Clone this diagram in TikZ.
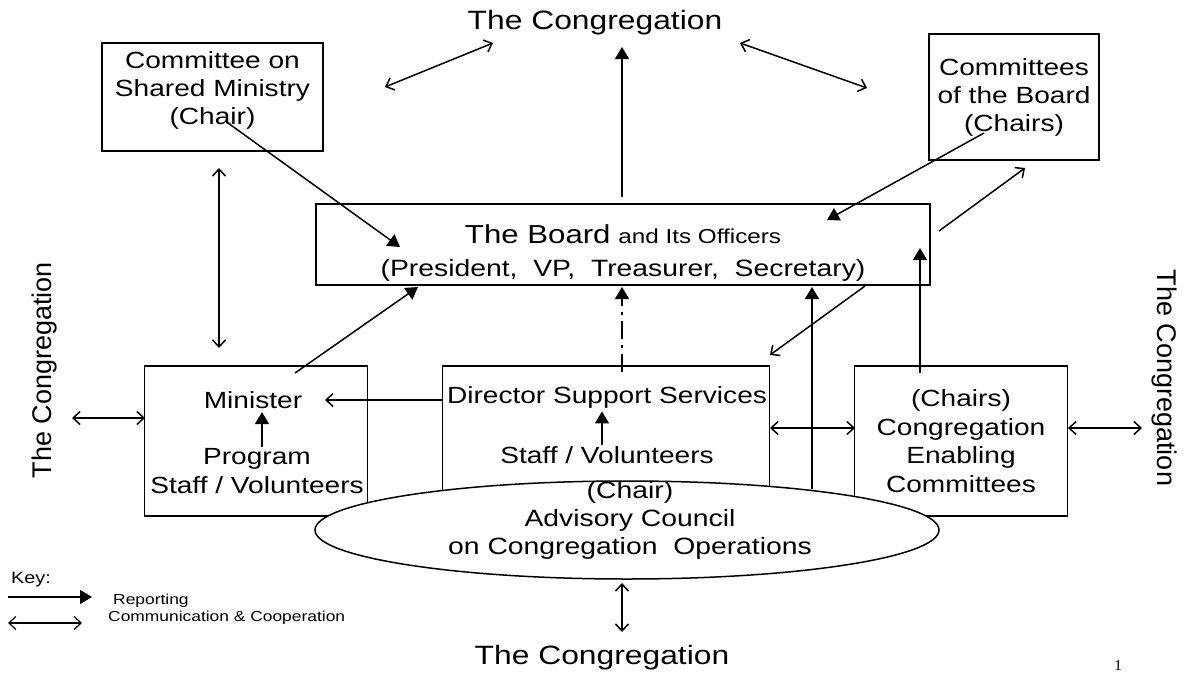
\documentclass[tikz,border=0pt]{standalone}
\usepackage{fontspec}
\setmainfont[FakeStretch=1.2]{Liberation Sans}
\newfontfamily\uprightfont{Liberation Sans}
\newfontfamily\pagenofont{Liberation Serif}
\usepackage{tikz}
\usetikzlibrary{arrows.meta, positioning, shapes.geometric}

\newcommand{\boxfont}{\fontsize{23.4}{28.5}\selectfont}
\newcommand{\titlefont}{\fontsize{26.5}{32}\selectfont}
\newcommand{\sidefont}{\uprightfont\fontsize{27}{32}\selectfont}
\newcommand{\keyfont}{\fontsize{14.5}{17}\selectfont}

\tikzstyle{unit} = [draw, rectangle, line width=1.6pt, align=center, inner sep=0pt]
\tikzstyle{report} = [line width=1.5pt, -{Triangle[length=12pt,width=14pt]}]
\tikzstyle{commone} = [line width=1.5pt, -{Straight Barb[length=7pt,width=13pt]}]
\tikzstyle{commboth} = [line width=1.5pt,
   {Straight Barb[length=7pt,width=13pt]}-{Straight Barb[length=7pt,width=13pt]}]
\tikzstyle{dashdot} = [dash pattern=on 18pt off 6pt on 3pt off 6pt]

\begin{document}
\begin{tikzpicture}[x=1pt,y=-1pt,font=\boxfont]
  \useasboundingbox (0,0) rectangle (1184,675);

  % the congregation, all four sides
  \node (congtop) at (595,23) {\titlefont The Congregation};
  \node (congbot) at (602,658) {\titlefont The Congregation};
  \node[rotate=90] (congleft) at (45,370) {\sidefont The Congregation};
  \node[rotate=-90] (congright) at (1164,378) {\sidefont The Congregation};

  % upper row
  \node[unit, minimum width=221pt, minimum height=108pt] (csm) at (212.5,97) {};
  \node[align=center, font=\fontsize{23.4}{28}\selectfont] (csmtext) at (212.5,90)
     {Committee on\\Shared Ministry\\(Chair)};
  \node[unit, minimum width=170pt, minimum height=126pt,
     font=\fontsize{23.4}{28}\selectfont] (cob) at (1014,97)
     {Committees\\of the Board\\(Chairs)};
  \node[unit, minimum width=614pt, minimum height=81pt] (board) at (623,244.5) {};
  \node[align=center, font=\fontsize{23.6}{33}\selectfont] (boardtext) at (623,253)
     {{\fontsize{26}{33}\selectfont The Board}
      {\fontsize{20.2}{33}\selectfont and Its Officers}\\(President,~ VP,~ Treasurer,~ Secretary)};

  % lower row
  \node[unit, minimum width=223pt, minimum height=150pt] (minbox) at (256,441) {};
  \node (minister) at (253,400) {Minister};
  \node[align=center, inner sep=1pt] (program) at (257,471) {Program\\Staff / Volunteers};
  \node[unit, minimum width=327pt, minimum height=160pt] (dss) at (606,446) {};
  \node (director) at (607,397) {Director Support Services};
  \node[inner sep=1pt] (dssstaff) at (607,455) {Staff / Volunteers};
  \node[unit, minimum width=213pt, minimum height=150pt] (cec) at (961,441)
     {(Chairs)\\Congregation\\Enabling\\Committees};

  % advisory council sits over the boxes
  \node[draw, ellipse, fill=white, line width=1.5pt, minimum width=624pt,
     minimum height=98pt] (acco) at (627,530) {};
  \node[align=center, font=\fontsize{23.6}{28}\selectfont] (accotext) at (630,520)
     {(Chair)\\Advisory Council\\on Congregation~ Operations};

  % free ends of the connectors
  \coordinate (tl1) at (385,87);   \coordinate (tl2) at (493,43);
  \coordinate (tr1) at (740,43);   \coordinate (tr2) at (867,88);
  \coordinate (bt) at (622,197);   \coordinate (ct) at (622,47);
  \coordinate (csmin) at (228,123); \coordinate (bin1) at (400,247);
  \coordinate (cobin) at (984,133); \coordinate (bin2) at (827,220);
  \coordinate (bout) at (939,231); \coordinate (cobbelow) at (1025,168);
  \coordinate (csmbelow) at (219,168); \coordinate (minabove) at (219,348);
  \coordinate (minin) at (295,373); \coordinate (bbot1) at (418,287);
  \coordinate (dssin) at (622,372); \coordinate (bbot2) at (622,287);
  \coordinate (bbot3) at (865,286); \coordinate (dsscorner) at (770,355);
  \coordinate (accotop) at (812,489); \coordinate (bbot4) at (812,287);
  \coordinate (cecin) at (920,373); \coordinate (bin3) at (920,248);
  \coordinate (dssleft) at (443,400); \coordinate (minright) at (325,400);
  \coordinate (dssright) at (770,428); \coordinate (cecleft) at (855,428);
  \coordinate (cecright) at (1068,428); \coordinate (congr) at (1142,428);
  \coordinate (congl) at (72,418); \coordinate (minleft) at (145,418);
  \coordinate (accobot) at (622,583); \coordinate (congb) at (622,632);
  \coordinate (minarrow) at (262,0); \coordinate (dssarrow) at (602,0);

  % communication & cooperation
  \draw[commboth] (tl1) -- (tl2);
  \draw[commboth] (tr1) -- (tr2);
  \draw[commboth] (csmbelow) -- (minabove);
  \draw[commboth] (congl) -- (minleft);
  \draw[commboth] (dssright) -- (cecleft);
  \draw[commboth] (cecright) -- (congr);
  \draw[commboth] (accobot) -- (congb);
  \draw[commone] (bout) -- (cobbelow);
  \draw[commone] (bbot3) -- (dsscorner);
  \draw[commone] (dssleft) -- (minright);

  % reporting
  \draw[report] (bt) -- (ct);
  \draw[report] (csmin) -- (bin1);
  \draw[report] (cobin) -- (bin2);
  \draw[report] (minin) -- (bbot1);
  \draw[report, dashdot] (dssin) -- (bbot2);
  \draw[report] (accotop) -- (bbot4);
  \draw[report] (cecin) -- (bin3);
  \draw[report] (program.north -| minarrow) -- (minister.south -| minarrow);
  \draw[report] (dssstaff.north -| dssarrow) -- (director.south -| dssarrow);

  % key
  \node[anchor=west, inner sep=0pt] (key) at (11,580) {\fontsize{16.5}{19}\selectfont Key:};
  \coordinate (k1a) at (8,597);  \coordinate (k1b) at (92,597);
  \coordinate (k2a) at (8,623);  \coordinate (k2b) at (82,623);
  \draw[report, line width=1.2pt] (k1a) -- (k1b);
  \draw[commboth, line width=1.2pt] (k2a) -- (k2b);
  \node[anchor=west, inner sep=0pt] (keyrep) at (113,601) {\keyfont Reporting};
  \node[anchor=west, inner sep=0pt] (keycom) at (108,618) {\keyfont Communication \& Cooperation};

  \node (pageno) at (1118,666) {\pagenofont\fontsize{15}{18}\selectfont 1};
\end{tikzpicture}
\end{document}
